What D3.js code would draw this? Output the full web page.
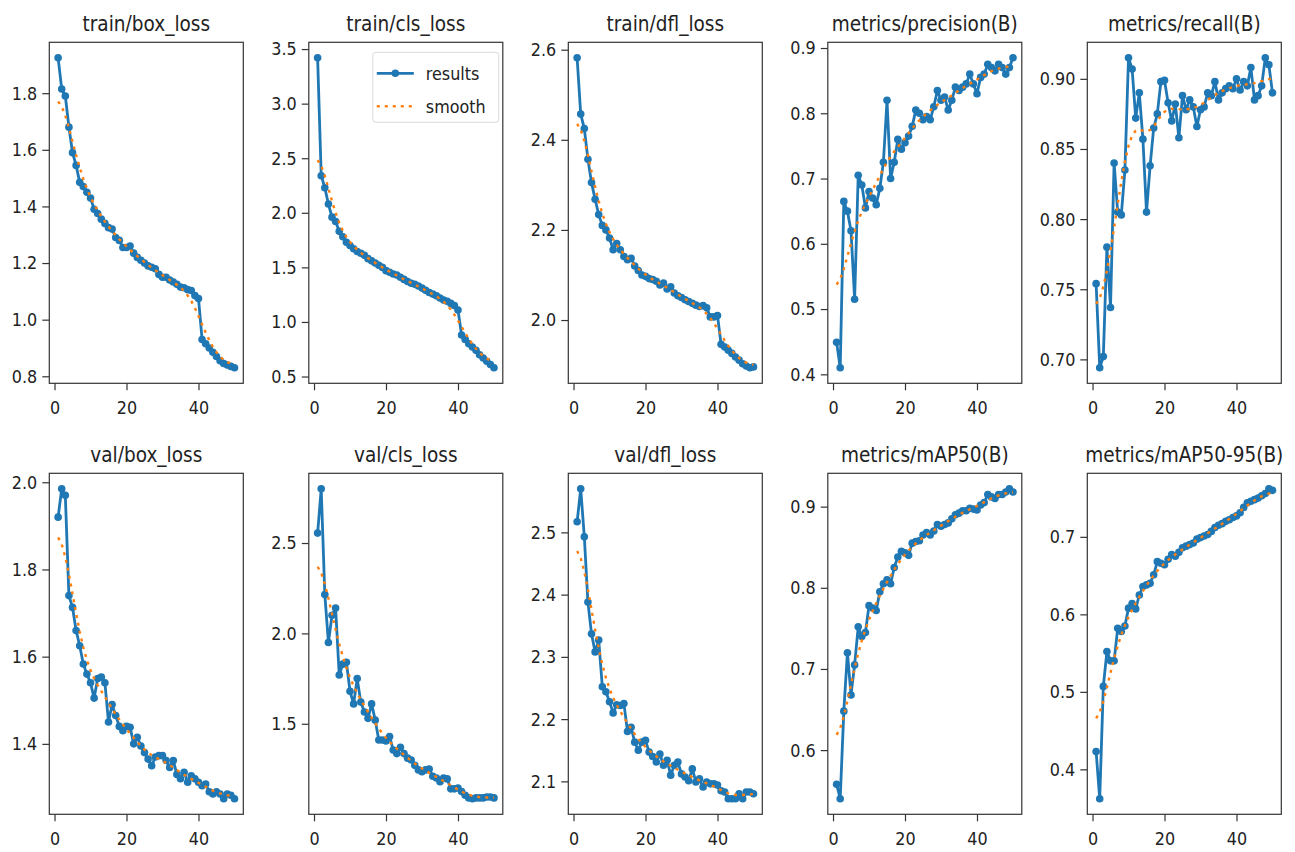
<!DOCTYPE html>
<html>
<head>
<meta charset="utf-8">
<script src="https://cdn.jsdelivr.net/npm/d3@7"></script>
<style>
  body { margin: 0; background: #fff; }
  text { font-family: "DejaVu Sans", sans-serif; fill: #222; }
</style>
</head>
<body>
<div id="chart-area"></div>
<script>
// epochs 1..50, one value per epoch
const epochs = d3.range(1, 51);
const xTicks = [0, 20, 40];

const titles = [
  'train/box_loss', 'train/cls_loss', 'train/dfl_loss', 'metrics/precision(B)', 'metrics/recall(B)',
  'val/box_loss', 'val/cls_loss', 'val/dfl_loss', 'metrics/mAP50(B)', 'metrics/mAP50-95(B)',
];

const trainBoxLoss = [1.925, 1.815, 1.79, 1.68, 1.59, 1.545, 1.485, 1.47, 1.45, 1.43,
  1.39, 1.375, 1.355, 1.34, 1.325, 1.32, 1.29, 1.28, 1.255, 1.255,
  1.26, 1.235, 1.22, 1.21, 1.2, 1.19, 1.185, 1.18, 1.16, 1.15,
  1.15, 1.14, 1.133, 1.125, 1.115, 1.113, 1.106, 1.103, 1.085, 1.075,
  0.93, 0.915, 0.9, 0.885, 0.87, 0.855, 0.845, 0.84, 0.835, 0.83];
const trainClsLoss = [3.42, 2.34, 2.23, 2.08, 1.96, 1.92, 1.83, 1.78, 1.73, 1.7,
  1.67, 1.645, 1.63, 1.61, 1.58, 1.56, 1.54, 1.52, 1.5, 1.47,
  1.455, 1.44, 1.43, 1.41, 1.39, 1.37, 1.355, 1.345, 1.33, 1.31,
  1.29, 1.27, 1.255, 1.24, 1.22, 1.2, 1.19, 1.17, 1.15, 1.11,
  0.88, 0.84, 0.8, 0.77, 0.74, 0.7, 0.67, 0.64, 0.61, 0.58];
const trainDflLoss = [2.582, 2.457, 2.425, 2.357, 2.305, 2.268, 2.234, 2.21, 2.2, 2.182,
  2.156, 2.17, 2.156, 2.141, 2.134, 2.137, 2.12, 2.11, 2.1, 2.097,
  2.092, 2.09, 2.086, 2.078, 2.082, 2.069, 2.074, 2.06, 2.054, 2.05,
  2.045, 2.041, 2.037, 2.033, 2.03, 2.032, 2.027, 2.007, 2.007, 2.01,
  1.946, 1.94, 1.933, 1.926, 1.918, 1.911, 1.903, 1.898, 1.894, 1.896];
const precision = [0.449, 0.41, 0.665, 0.65, 0.62, 0.515, 0.705, 0.69, 0.655, 0.68,
  0.67, 0.66, 0.685, 0.725, 0.82, 0.7, 0.725, 0.76, 0.745, 0.755,
  0.765, 0.78, 0.805, 0.8, 0.79, 0.795, 0.79, 0.81, 0.835, 0.82,
  0.825, 0.805, 0.82, 0.84, 0.835, 0.84, 0.845, 0.86, 0.845, 0.83,
  0.855, 0.86, 0.875, 0.87, 0.865, 0.875, 0.87, 0.86, 0.87, 0.885];
const recall = [0.754, 0.694, 0.702, 0.78, 0.737, 0.84, 0.805, 0.803, 0.835, 0.915,
  0.907, 0.872, 0.89, 0.857, 0.805, 0.838, 0.865, 0.875, 0.898, 0.899,
  0.883, 0.87, 0.882, 0.858, 0.888, 0.878, 0.885, 0.88, 0.866, 0.878,
  0.88, 0.89, 0.888, 0.898, 0.885, 0.89, 0.893, 0.895, 0.893, 0.9,
  0.892, 0.898, 0.895, 0.908, 0.885, 0.888, 0.895, 0.915, 0.91, 0.89];
const valBoxLoss = [1.92, 1.985, 1.97, 1.74, 1.713, 1.66, 1.625, 1.583, 1.56, 1.54,
  1.505, 1.55, 1.553, 1.54, 1.45, 1.49, 1.465, 1.44, 1.43, 1.44,
  1.438, 1.4, 1.415, 1.395, 1.38, 1.365, 1.35, 1.37, 1.373, 1.373,
  1.362, 1.346, 1.362, 1.33, 1.32, 1.335, 1.312, 1.327, 1.32, 1.312,
  1.304, 1.308, 1.29, 1.285, 1.29, 1.285, 1.274, 1.285, 1.282, 1.274];
const valClsLoss = [2.555, 2.8, 2.215, 1.95, 2.1, 2.14, 1.77, 1.83, 1.84, 1.68,
  1.61, 1.75, 1.62, 1.565, 1.53, 1.61, 1.52, 1.41, 1.41, 1.405,
  1.43, 1.355, 1.335, 1.37, 1.335, 1.31, 1.3, 1.27, 1.245, 1.235,
  1.245, 1.25, 1.21, 1.2, 1.18, 1.2, 1.195, 1.14, 1.14, 1.145,
  1.125, 1.105, 1.09, 1.085, 1.09, 1.09, 1.09, 1.095, 1.095, 1.09];
const valDflLoss = [2.517, 2.57, 2.493, 2.388, 2.337, 2.308, 2.327, 2.252, 2.244, 2.228,
  2.21, 2.223, 2.222, 2.225, 2.18, 2.187, 2.163, 2.15, 2.163, 2.166,
  2.147, 2.14, 2.131, 2.144, 2.126, 2.134, 2.11, 2.126, 2.131, 2.112,
  2.107, 2.101, 2.12, 2.099, 2.104, 2.091, 2.099, 2.096, 2.096, 2.094,
  2.085, 2.083, 2.072, 2.072, 2.072, 2.08, 2.072, 2.083, 2.083, 2.08];
const mAP50 = [0.558, 0.54, 0.648, 0.72, 0.668, 0.705, 0.752, 0.74, 0.745, 0.778,
  0.775, 0.772, 0.795, 0.805, 0.81, 0.805, 0.825, 0.838, 0.845, 0.843,
  0.84, 0.855, 0.857, 0.858, 0.865, 0.868, 0.865, 0.87, 0.878, 0.876,
  0.878, 0.88, 0.885, 0.89, 0.892, 0.895, 0.895, 0.898, 0.897, 0.896,
  0.902, 0.905, 0.915, 0.912, 0.91, 0.915, 0.915, 0.918, 0.922, 0.918];
const mAP5095 = [0.423, 0.362, 0.507, 0.552, 0.54, 0.54, 0.582, 0.578, 0.585, 0.608,
  0.614, 0.607, 0.625, 0.636, 0.638, 0.64, 0.651, 0.668, 0.666, 0.664,
  0.671, 0.677, 0.675, 0.68, 0.686, 0.688, 0.69, 0.692, 0.697, 0.699,
  0.701, 0.703, 0.707, 0.712, 0.715, 0.717, 0.72, 0.722, 0.725, 0.727,
  0.731, 0.738, 0.744, 0.746, 0.748, 0.75, 0.753, 0.756, 0.762, 0.76];

const series = [trainBoxLoss, trainClsLoss, trainDflLoss, precision, recall,
  valBoxLoss, valClsLoss, valDflLoss, mAP50, mAP5095];

const yTicks = [
  [0.8, 1.0, 1.2, 1.4, 1.6, 1.8],
  [0.5, 1.0, 1.5, 2.0, 2.5, 3.0, 3.5],
  [2.0, 2.2, 2.4, 2.6],
  [0.4, 0.5, 0.6, 0.7, 0.8, 0.9],
  [0.70, 0.75, 0.80, 0.85, 0.90],
  [1.4, 1.6, 1.8, 2.0],
  [1.5, 2.0, 2.5],
  [2.1, 2.2, 2.3, 2.4, 2.5],
  [0.6, 0.7, 0.8, 0.9],
  [0.4, 0.5, 0.6, 0.7],
];
const yFormats = ['.1f', '.1f', '.1f', '.1f', '.2f', '.1f', '.1f', '.1f', '.1f', '.1f'];

let width = 1295;
let height = 852;
let colLefts = [49.3, 308.8, 568.3, 827.8, 1087.3];
let rowTops = [42.3, 473.3];
let panelW = 194;
let panelH = 341;
let stretch = 'scale(1,1.15)'; // reference text is slightly taller than wide

// same smoothing as the training script: gaussian, sigma 3, reflect at the ends
function gaussianSmooth(values, sigma) {
  let radius = Math.round(4 * sigma);
  let kernel = d3.range(-radius, radius + 1).map((k) => Math.exp((-0.5 * k * k) / (sigma * sigma)));
  let total = d3.sum(kernel);
  let n = values.length;
  let at = (i) => {
    while (i < 0 || i >= n) {
      if (i < 0) i = -i - 1;
      if (i >= n) i = 2 * n - i - 1;
    }
    return values[i];
  };
  return values.map((_, i) => d3.sum(kernel, (w, j) => w * at(i + j - radius)) / total);
}

let chart = d3
  .select('#chart-area')
  .append('svg')
  .attr('width', width)
  .attr('height', height);

series.forEach((values, i) => {
  let col = i % 5;
  let row = Math.floor(i / 5);
  let smooth = gaussianSmooth(values, 3);

  let [lo, hi] = d3.extent(values.concat(smooth));
  let pad = (hi - lo) * 0.05;
  let x = d3.scaleLinear().domain([1 - 49 * 0.05, 50 + 49 * 0.05]).range([0, panelW]);
  let y = d3.scaleLinear().domain([lo - pad, hi + pad]).range([panelH, 0]);

  let g = chart.append('g').attr('transform', `translate(${colLefts[col]},${rowTops[row]})`);

  //title
  g.append('text')
    .attr('transform', `translate(${panelW / 2},-11) ${stretch}`)
    .attr('text-anchor', 'middle')
    .style('font-size', '18.5px')
    .text(titles[i]);

  //axes
  let xAxis = g
    .append('g')
    .attr('transform', `translate(0,${panelH})`)
    .call(d3.axisBottom(x).tickValues(xTicks).tickFormat(d3.format('d')).tickSize(7).tickPadding(8));
  let yAxis = g
    .append('g')
    .call(d3.axisLeft(y).tickValues(yTicks[i]).tickFormat(d3.format(yFormats[i])).tickSize(7).tickPadding(5));
  [xAxis, yAxis].forEach((ax) => {
    ax.select('.domain').remove();
    ax.selectAll('line').attr('stroke', '#333').attr('stroke-width', 1.2);
    ax.selectAll('text').style('font-size', '16px').style('fill', '#222').attr('transform', stretch);
  });

  //results line and markers
  let line = d3
    .line()
    .x((d, k) => x(epochs[k]))
    .y((d) => y(d));
  g.append('path')
    .attr('d', line(values))
    .attr('fill', 'none')
    .attr('stroke', '#1f77b4')
    .attr('stroke-width', 2.8)
    .attr('stroke-linejoin', 'round');
  g.append('g')
    .selectAll('circle')
    .data(values)
    .enter()
    .append('circle')
    .attr('cx', (d, k) => x(epochs[k]))
    .attr('cy', (d) => y(d))
    .attr('r', 3.8)
    .attr('fill', '#1f77b4');

  //smooth line on top, dotted
  g.append('path')
    .attr('d', line(smooth))
    .attr('fill', 'none')
    .attr('stroke', '#ff7f0e')
    .attr('stroke-width', 2.4)
    .attr('stroke-dasharray', '3,5');

  //frame
  g.append('rect')
    .attr('width', panelW)
    .attr('height', panelH)
    .attr('fill', 'none')
    .attr('stroke', '#333')
    .attr('stroke-width', 1.2);

  //legend only in the second panel
  if (i === 1) {
    let lg = g.append('g').attr('transform', 'translate(64,10)');
    lg.append('rect')
      .attr('width', 126)
      .attr('height', 70)
      .attr('rx', 3)
      .attr('fill', 'rgba(255,255,255,0.8)')
      .attr('stroke', '#d9d9d9');
    let entries = [
      { label: 'results', color: '#1f77b4', dash: null, y: 21 },
      { label: 'smooth', color: '#ff7f0e', dash: '3,5', y: 54 },
    ];
    entries.forEach((e) => {
      lg.append('line')
        .attr('x1', 4)
        .attr('x2', 41)
        .attr('y1', e.y)
        .attr('y2', e.y)
        .attr('stroke', e.color)
        .attr('stroke-width', e.dash ? 2.4 : 2.8)
        .attr('stroke-dasharray', e.dash);
      if (!e.dash) lg.append('circle').attr('cx', 22.5).attr('cy', e.y).attr('r', 3.8).attr('fill', e.color);
      lg.append('text')
        .attr('transform', `translate(53,${e.y}) ${stretch}`)
        .attr('dy', '0.35em')
        .style('font-size', '16px')
        .text(e.label);
    });
  }
});
</script>
</body>
</html>
